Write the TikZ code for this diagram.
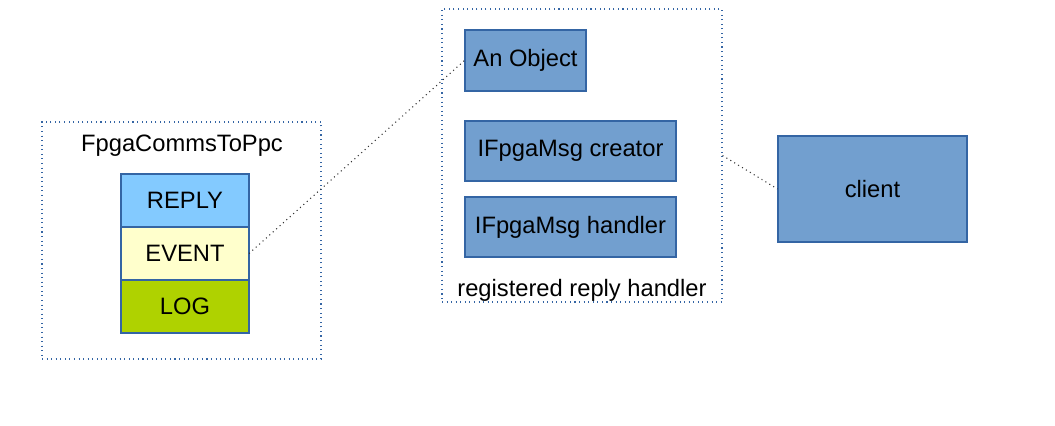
\documentclass[tikz,border=0pt]{standalone}
\usepackage{fontspec}
\setmainfont{Liberation Sans}
\usetikzlibrary{positioning}

\definecolor{lineBlue}{HTML}{3465A4}
\definecolor{objBlue}{HTML}{729FCF}
\definecolor{replyBlue}{HTML}{83CAFF}
\definecolor{eventYellow}{HTML}{FFFFCC}
\definecolor{logGreen}{HTML}{AFD200}

\tikzset{
  grpBox/.style={draw=lineBlue, dotted, line width=0.6pt, inner sep=0pt},
  objBox/.style={draw=lineBlue, fill=objBlue, line width=0.6pt, inner sep=0pt},
  partBox/.style={draw=lineBlue, line width=0.6pt, inner sep=0pt, outer sep=0pt,
    minimum width=128*0.02cm, minimum height=53*0.02cm},
  link/.style={dotted, line width=0.6pt, black!80}
}

\begin{document}
\begin{tikzpicture}[x=0.02cm,y=-0.02cm,font=\fontsize{13.5}{16}\selectfont]
\useasboundingbox (0,0) rectangle (1055,426);

% left group with its message parts
\node[grpBox, minimum width=279*0.02cm, minimum height=237*0.02cm] (comms) at (181.5,240.5) {};
\node (commsTitle) at (182,146) {FpgaCommsToPpc};
\node[partBox, fill=replyBlue] (reply) at (185,200.5) {REPLY};
\node[partBox, fill=eventYellow, below=0pt of reply] (event) {EVENT};
\node[partBox, fill=logGreen, below=0pt of event] (log) {LOG};

% registered reply handler
\node[grpBox, minimum width=280*0.02cm, minimum height=293*0.02cm] (handlerGrp) at (582,155.5) {};
\node[objBox, minimum width=121*0.02cm, minimum height=61*0.02cm] (obj) at (525.5,60.5) {An Object};
\node[objBox, minimum width=211*0.02cm, minimum height=60*0.02cm] (creator) at (570.5,151) {IFpgaMsg creator};
\node[objBox, minimum width=211*0.02cm, minimum height=60*0.02cm] (handler) at (570.5,227) {IFpgaMsg handler};
\node (handlerTitle) at (582,290) {registered reply handler};

% client
\node[objBox, minimum width=189*0.02cm, minimum height=106*0.02cm] (client) at (872.5,189) {client};

% dotted links
\draw[link] (event.east) -- (obj.west);
\draw[link] (handlerGrp.east) -- (client.west);
\end{tikzpicture}
\end{document}
